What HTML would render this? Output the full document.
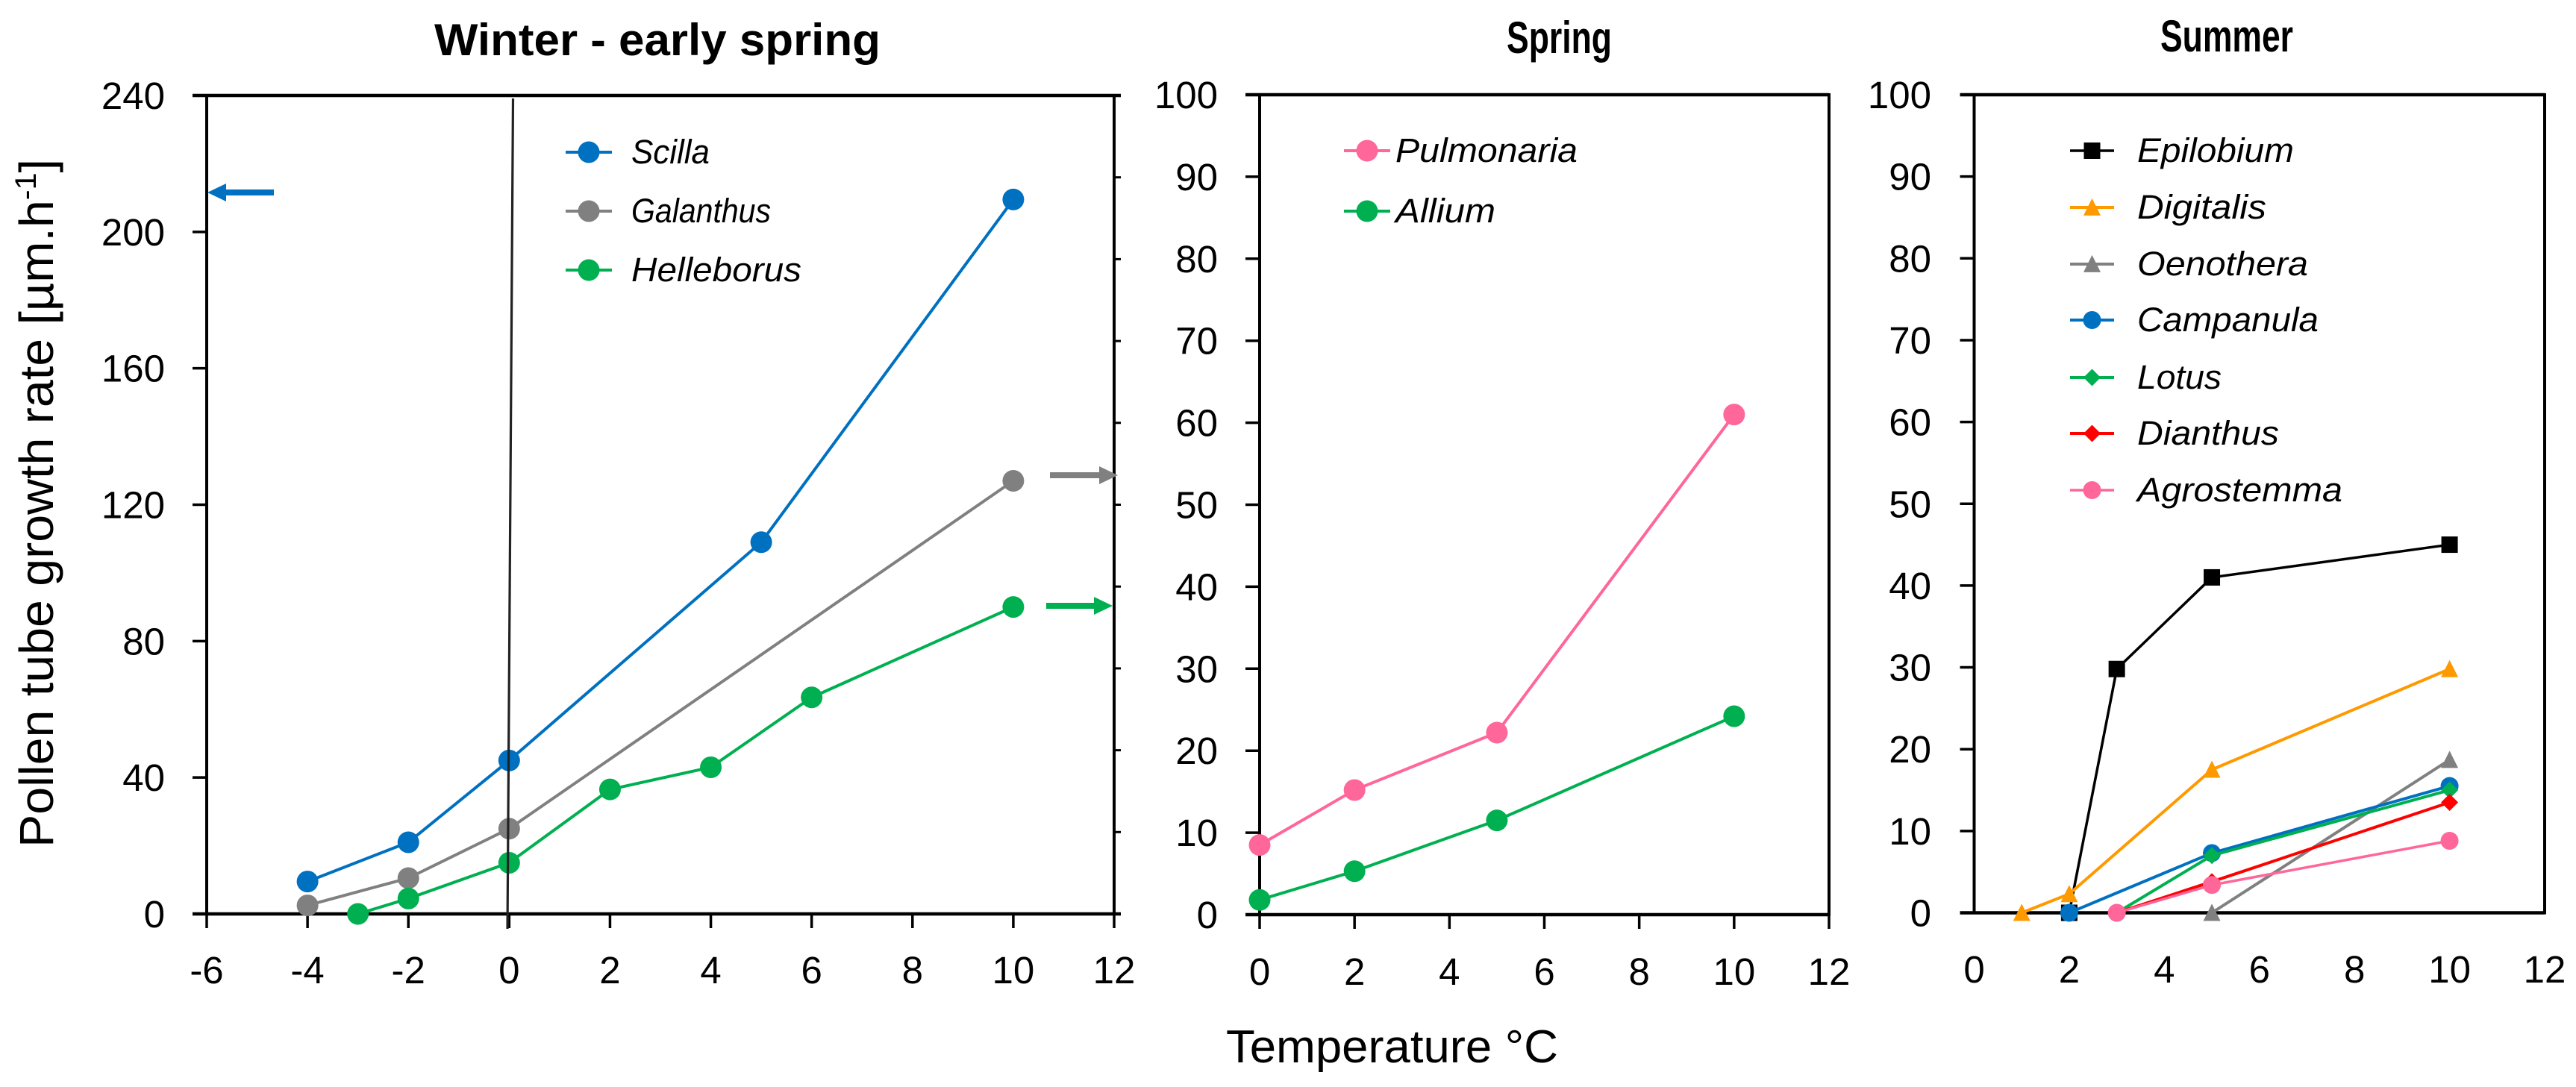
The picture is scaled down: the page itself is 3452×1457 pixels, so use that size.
<!DOCTYPE html>
<html lang="en">
<head>
<meta charset="utf-8">
<title>Pollen tube growth rate vs temperature</title>
<style>
html,body{margin:0;padding:0;background:#fff;width:3452px;height:1457px;overflow:hidden}
svg{display:block}
text{font-family:"Liberation Sans",sans-serif;fill:#000}
.title{font-size:60px;font-weight:bold}
.title-narrow{font-size:60px;font-weight:bold}
.tick{font-size:51px}
.axis-title{font-size:64px}
.legend{font-size:45px;font-style:italic}
</style>
</head>
<body>
<svg id="chart" xmlns="http://www.w3.org/2000/svg" width="3452" height="1457" viewBox="0 0 3452 1457">
  <rect width="3452" height="1457" fill="#fff"/>
  <text class="title" x="582" y="74" textLength="598" lengthAdjust="spacingAndGlyphs">Winter - early spring</text>
  <text class="title-narrow" x="2019" y="71" textLength="141" lengthAdjust="spacingAndGlyphs">Spring</text>
  <text class="title-narrow" x="2895" y="69" textLength="178" lengthAdjust="spacingAndGlyphs">Summer</text>
  <text class="axis-title" transform="translate(71 1136) rotate(-90)" textLength="923" lengthAdjust="spacingAndGlyphs">Pollen tube growth rate [µm.h<tspan font-size="40" dy="-23">-1</tspan><tspan dy="23">]</tspan></text>
  <text class="axis-title" style="font-size:62px" x="1643" y="1424" textLength="445" lengthAdjust="spacingAndGlyphs">Temperature °C</text>

  <text class="legend" x="846" y="219" textLength="105" lengthAdjust="spacingAndGlyphs">Scilla</text>
  <text class="legend" x="846" y="298" textLength="187" lengthAdjust="spacingAndGlyphs">Galanthus</text>
  <text class="legend" x="846" y="377" textLength="228" lengthAdjust="spacingAndGlyphs">Helleborus</text>

  <text class="legend" x="1870" y="217" textLength="244" lengthAdjust="spacingAndGlyphs">Pulmonaria</text>
  <text class="legend" x="1870" y="298" textLength="134" lengthAdjust="spacingAndGlyphs">Allium</text>

  <text class="legend" x="2864" y="217" textLength="210" lengthAdjust="spacingAndGlyphs">Epilobium</text>
  <text class="legend" x="2864" y="293" textLength="173" lengthAdjust="spacingAndGlyphs">Digitalis</text>
  <text class="legend" x="2864" y="369" textLength="229" lengthAdjust="spacingAndGlyphs">Oenothera</text>
  <text class="legend" x="2864" y="444" textLength="243" lengthAdjust="spacingAndGlyphs">Campanula</text>
  <text class="legend" x="2864" y="521" textLength="113" lengthAdjust="spacingAndGlyphs">Lotus</text>
  <text class="legend" x="2864" y="596" textLength="190" lengthAdjust="spacingAndGlyphs">Dianthus</text>
  <text class="legend" x="2864" y="672" textLength="275" lengthAdjust="spacingAndGlyphs">Agrostemma</text>
</svg>
<script>
// ---- data ----
const winterXTicks = [-6,-4,-2,0,2,4,6,8,10,12];
const winterYTicks = [0,40,80,120,160,200,240];
const winterSecondaryTicks = [0,10,20,30,40,50,60,70,80,90,100];
const springXTicks = [0,2,4,6,8,10,12];
const summerXTicks = [0,2,4,6,8,10,12];
const percentYTicks = [0,10,20,30,40,50,60,70,80,90,100];

const scillaX = [-4,-2,0,5,10];
const scillaY = [9.5,21,45,109,209.5];
const galanthusX = [-4,-2,0,10];
const galanthusY = [2.5,10.5,25,127];
const helleborusX = [-3,-2,0,2,4,6,10];
const helleborusY = [0,4.5,15,36.5,43,63.5,90];

const pulmonariaX = [0,2,5,10];
const pulmonariaY = [8.5,15.2,22.2,61];
const alliumX = [0,2,5,10];
const alliumY = [1.8,5.3,11.5,24.2];

const epilobiumX = [2,3,5,10];
const epilobiumY = [0,29.8,41,45];
const digitalisX = [1,2,5,10];
const digitalisY = [0,2.3,17.5,29.8];
const oenotheraX = [5,10];
const oenotheraY = [0,18.7];
const campanulaX = [2,5,10];
const campanulaY = [0,7.3,15.5];
const lotusX = [3,5,10];
const lotusY = [0,7,15];
const dianthusX = [3,5,10];
const dianthusY = [0,3.8,13.5];
const agrostemmaX = [3,5,10];
const agrostemmaY = [0,3.4,8.8];

// ---- helpers ----
const NS = 'http://www.w3.org/2000/svg';
const svg = document.getElementById('chart');
function make(tag, name, attrs, parent){
  const el = document.createElementNS(NS, tag);
  
  
  for (const k in attrs) el.setAttribute(k, attrs[k]);
  (parent || svg).appendChild(el);
  return el;
}
function scale(d0,d1,p0,p1){ return v => p0 + (v-d0)*(p1-p0)/(d1-d0); }
function line(name,x1,y1,x2,y2,w,c,parent){
  return make('line',name,{x1,y1,x2,y2,'stroke-width':w,stroke:c||'#000'},parent);
}
function marker(name,shape,cx,cy,r,color,parent){
  if (shape==='circle') return make('circle',name,{cx,cy,r,fill:color},parent);
  if (shape==='square') return make('rect',name,{x:cx-r,y:cy-r,width:2*r,height:2*r,fill:color},parent);
  if (shape==='triangle') return make('polygon',name,{points:`${cx},${cy-r*1.05} ${cx+r},${cy+r*0.95} ${cx-r},${cy+r*0.95}`,fill:color},parent);
  return make('polygon',name,{points:`${cx},${cy-r} ${cx+r},${cy} ${cx},${cy+r} ${cx-r},${cy}`,fill:color},parent);
}
function series(slug,xs,ys,sx,sy,color,shape,r,w){
  const g = make('g','series-'+slug,{});
  make('polyline',slug+'-line',{points:xs.map((x,i)=>sx(x)+','+sy(ys[i])).join(' '),fill:'none',stroke:color,'stroke-width':w,'stroke-linejoin':'round'},g);
  xs.forEach((x,i)=>marker(slug+'-point',shape,sx(x),sy(ys[i]),r,color,g));
}
function legendKey(slug,x0,x1,y,color,shape,r,w){
  const g = make('g','legend-key-'+slug,{});
  line(slug+'-key-line',x0,y,x1,y,w,color,g);
  marker(slug+'-key-marker',shape,(x0+x1)/2,y,r,color,g);
}
function frame(slug,sx,sy,xMin,xMax,yMax,cfg){
  const g = make('g',slug+'-axes',{});
  const L=sx(xMin),R=sx(xMax),T=sy(yMax),B=sy(0);
  line(slug+'-left-axis',L,T,L,B,4,'#000',g);
  line(slug+'-right-axis',R,T-2,R,B+2,4,'#000',g);
  line(slug+'-top-axis',L-19,T,R+(cfg.rightOverhang||0),T,4.5,'#000',g);
  line(slug+'-bottom-axis',L-19,B,R+(cfg.rightOverhang||0),B,4.5,'#000',g);
  cfg.yTicks.forEach(v=>{
    const y=sy(v);
    if(v!==0 && v!==yMax) line(slug+'-y-tick',L-19,y,L,y,3.5,'#000',g);
    const t=make('text',slug+'-y-tick-label',{class:'tick',x:cfg.yLabelX,y:y+18,'text-anchor':'end'},g);
    t.textContent=v;
  });
  cfg.xTicks.forEach(v=>{
    const x=sx(v);
    if(cfg.xTickLen) line(slug+'-x-tick',x,B,x,B+cfg.xTickLen,3.5,'#000',g);
    const t=make('text',slug+'-x-tick-label',{class:'tick',x:x,y:cfg.xLabelY,'text-anchor':'middle'},g);
    t.textContent=v;
  });
}
function arrow(name,tail,tip,y,color){
  const dir = tip>tail?1:-1, head=tip-dir*25;
  make('polygon',name,{fill:color,points:`${tail},${y-4} ${head},${y-4} ${head},${y-12} ${tip},${y} ${head},${y+12} ${head},${y+4} ${tail},${y+4}`});
}

// ---- winter panel ----
const wx = scale(-6,12,277,1493), wy = scale(0,240,1225,128);
const wy2 = scale(0,100,1225,128);
frame('winter',wx,wy,-6,12,240,{yTicks:winterYTicks,xTicks:winterXTicks,yLabelX:221,xLabelY:1318,xTickLen:19,rightOverhang:9});
winterSecondaryTicks.forEach(v=>{
  line('winter-secondary-tick',1493,wy2(v),1502,wy2(v),3,'#000');
});
series('scilla',scillaX,scillaY,wx,wy,'#0070C0','circle',14.5,4);
series('galanthus',galanthusX,galanthusY,wx,wy,'#808080','circle',14.5,4);
series('helleborus',helleborusX,helleborusY,wx,wy,'#00B050','circle',14.5,4);
line('winter-zero-reference-line',680,1245,687.5,132,3.2,'#222');
legendKey('scilla',758,820,204,'#0070C0','circle',14.5,4);
legendKey('galanthus',758,820,283,'#808080','circle',14.5,4);
legendKey('helleborus',758,820,362,'#00B050','circle',14.5,4);
arrow('scilla-arrow',367,278,258,'#0070C0');
arrow('galanthus-arrow',1407,1498,637,'#808080');
arrow('helleborus-arrow',1402,1491,812,'#00B050');

// ---- spring panel ----
const px = scale(0,12,1688,2451), py = scale(0,100,1226,127);
frame('spring',px,py,0,12,100,{yTicks:percentYTicks,xTicks:springXTicks,yLabelX:1632,xLabelY:1320,xTickLen:19});
series('pulmonaria',pulmonariaX,pulmonariaY,px,py,'#FF6699','circle',14.5,4);
series('allium',alliumX,alliumY,px,py,'#00B050','circle',14.5,4);
legendKey('pulmonaria',1801,1863,202,'#FF6699','circle',14.5,4);
legendKey('allium',1801,1863,283,'#00B050','circle',14.5,4);

// ---- summer panel ----
const sx = scale(0,12,2645.5,3410), sy = scale(0,100,1223.5,127);
frame('summer',sx,sy,0,12,100,{yTicks:percentYTicks,xTicks:summerXTicks,yLabelX:2588,xLabelY:1317,xTickLen:0});
series('epilobium',epilobiumX,epilobiumY,sx,sy,'#000000','square',11,3.5);
series('digitalis',digitalisX,digitalisY,sx,sy,'#FF9900','triangle',11.5,4);
series('oenothera',oenotheraX,oenotheraY,sx,sy,'#808080','triangle',11.5,4);
series('campanula',campanulaX,campanulaY,sx,sy,'#0070C0','circle',12,4);
series('lotus',lotusX,lotusY,sx,sy,'#00B050','diamond',11.5,4);
series('dianthus',dianthusX,dianthusY,sx,sy,'#FF0000','diamond',11.5,4);
series('agrostemma',agrostemmaX,agrostemmaY,sx,sy,'#FF6699','circle',12,3.5);
legendKey('epilobium',2774,2833,202,'#000000','square',11,3.5);
legendKey('digitalis',2774,2833,278,'#FF9900','triangle',11.5,4);
legendKey('oenothera',2774,2833,354,'#808080','triangle',11.5,4);
legendKey('campanula',2774,2833,429,'#0070C0','circle',12,4);
legendKey('lotus',2774,2833,506,'#00B050','diamond',11.5,4);
legendKey('dianthus',2774,2833,581,'#FF0000','diamond',11.5,4);
legendKey('agrostemma',2774,2833,657,'#FF6699','circle',12,3.5);
</script>
</body>
</html>
